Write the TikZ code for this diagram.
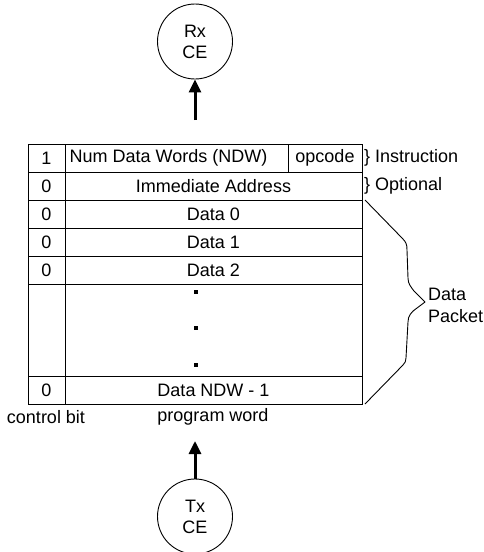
\documentclass[tikz,border=0pt]{standalone}
\usepackage{fontspec}
\setmainfont{Liberation Sans}
\usetikzlibrary{arrows.meta}
\begin{document}
\begin{tikzpicture}[x=1pt,y=-1pt,
  every node/.style={font=\fontsize{18}{21}\selectfont},
  cell/.style={draw, line width=0.9pt, minimum height=28pt, inner sep=0pt},
  ce/.style={draw, circle, line width=0.9pt, minimum size=75pt, inner sep=0pt, align=center},
  flow/.style={line width=3pt, -{Triangle[length=13pt,width=12pt]}},
  lbl/.style={inner sep=0pt},
  dotmark/.style={fill, minimum size=4pt, inner sep=0pt},
  bracket/.style={line width=0.9pt, line join=round}]
\useasboundingbox (0,0) rectangle (483,552);

% receiving and transmitting elements
\node[ce] (rx) at (195,41.5) {Rx\\CE};
\node[ce] (tx) at (195,516.5) {Tx\\CE};
\coordinate (rxin) at (195,120);
\coordinate (txout) at (195,441);
\draw[flow] (rxin) -- (rx);
\draw[flow] (tx) -- (txout);

% packet table: control bit column and program word column
\node[cell, minimum width=37pt] (c1) at (46.5,158) {1};
\node[cell, minimum width=223pt] (ndw) at (176.5,158) {};
\node[lbl] (ndwtext) at (168.5,158) {Num Data Words (NDW)};
\node[cell, minimum width=74pt] (opc) at (325,158) {opcode};

\node[cell, minimum width=37pt] (c2) at (46.5,186) {0};
\node[cell, minimum width=297pt] (imm) at (213.5,186) {Immediate Address};
\node[cell, minimum width=37pt] (c3) at (46.5,214) {0};
\node[cell, minimum width=297pt] (d0) at (213.5,214) {Data 0};
\node[cell, minimum width=37pt] (c4) at (46.5,242) {0};
\node[cell, minimum width=297pt] (d1) at (213.5,242) {Data 1};
\node[cell, minimum width=37pt] (c5) at (46.5,270) {0};
\node[cell, minimum width=297pt] (d2) at (213.5,270) {Data 2};
\node[cell, minimum width=37pt, minimum height=92pt] (c6) at (46.5,330) {};
\node[cell, minimum width=297pt, minimum height=92pt] (gap) at (213.5,330) {};
\node[dotmark] (dt1) at (196,292) {};
\node[dotmark] (dt2) at (196,328) {};
\node[dotmark] (dt3) at (196,365) {};
\node[cell, minimum width=37pt] (c7) at (46.5,390) {0};
\node[cell, minimum width=297pt] (dn) at (213.5,390) {Data NDW - 1};

% column captions
\node[lbl] (cbit) at (46,417) {control bit};
\node[lbl] (pword) at (213,417) {program word};

% side annotations
\node[lbl, anchor=west] (instr) at (364,158) {\} Instruction};
\node[lbl, anchor=west] (opt) at (364,186) {\} Optional};
\node[lbl, anchor=north west, align=left, font=\fontsize{18}{22}\selectfont] (pkt) at (428,288) {Data\\Packet};

\draw[bracket] (365,200) -- (402,238) .. controls (406,242) and (407,244) .. (407,250)
  -- (408,278) .. controls (408,284) and (411,287) .. (414,291) -- (425,302)
  -- (417,308) .. controls (411,312) and (408,316) .. (408,322)
  -- (406,358) .. controls (406,361) and (405,363) .. (403,365) -- (365,404);
\end{tikzpicture}
\end{document}
